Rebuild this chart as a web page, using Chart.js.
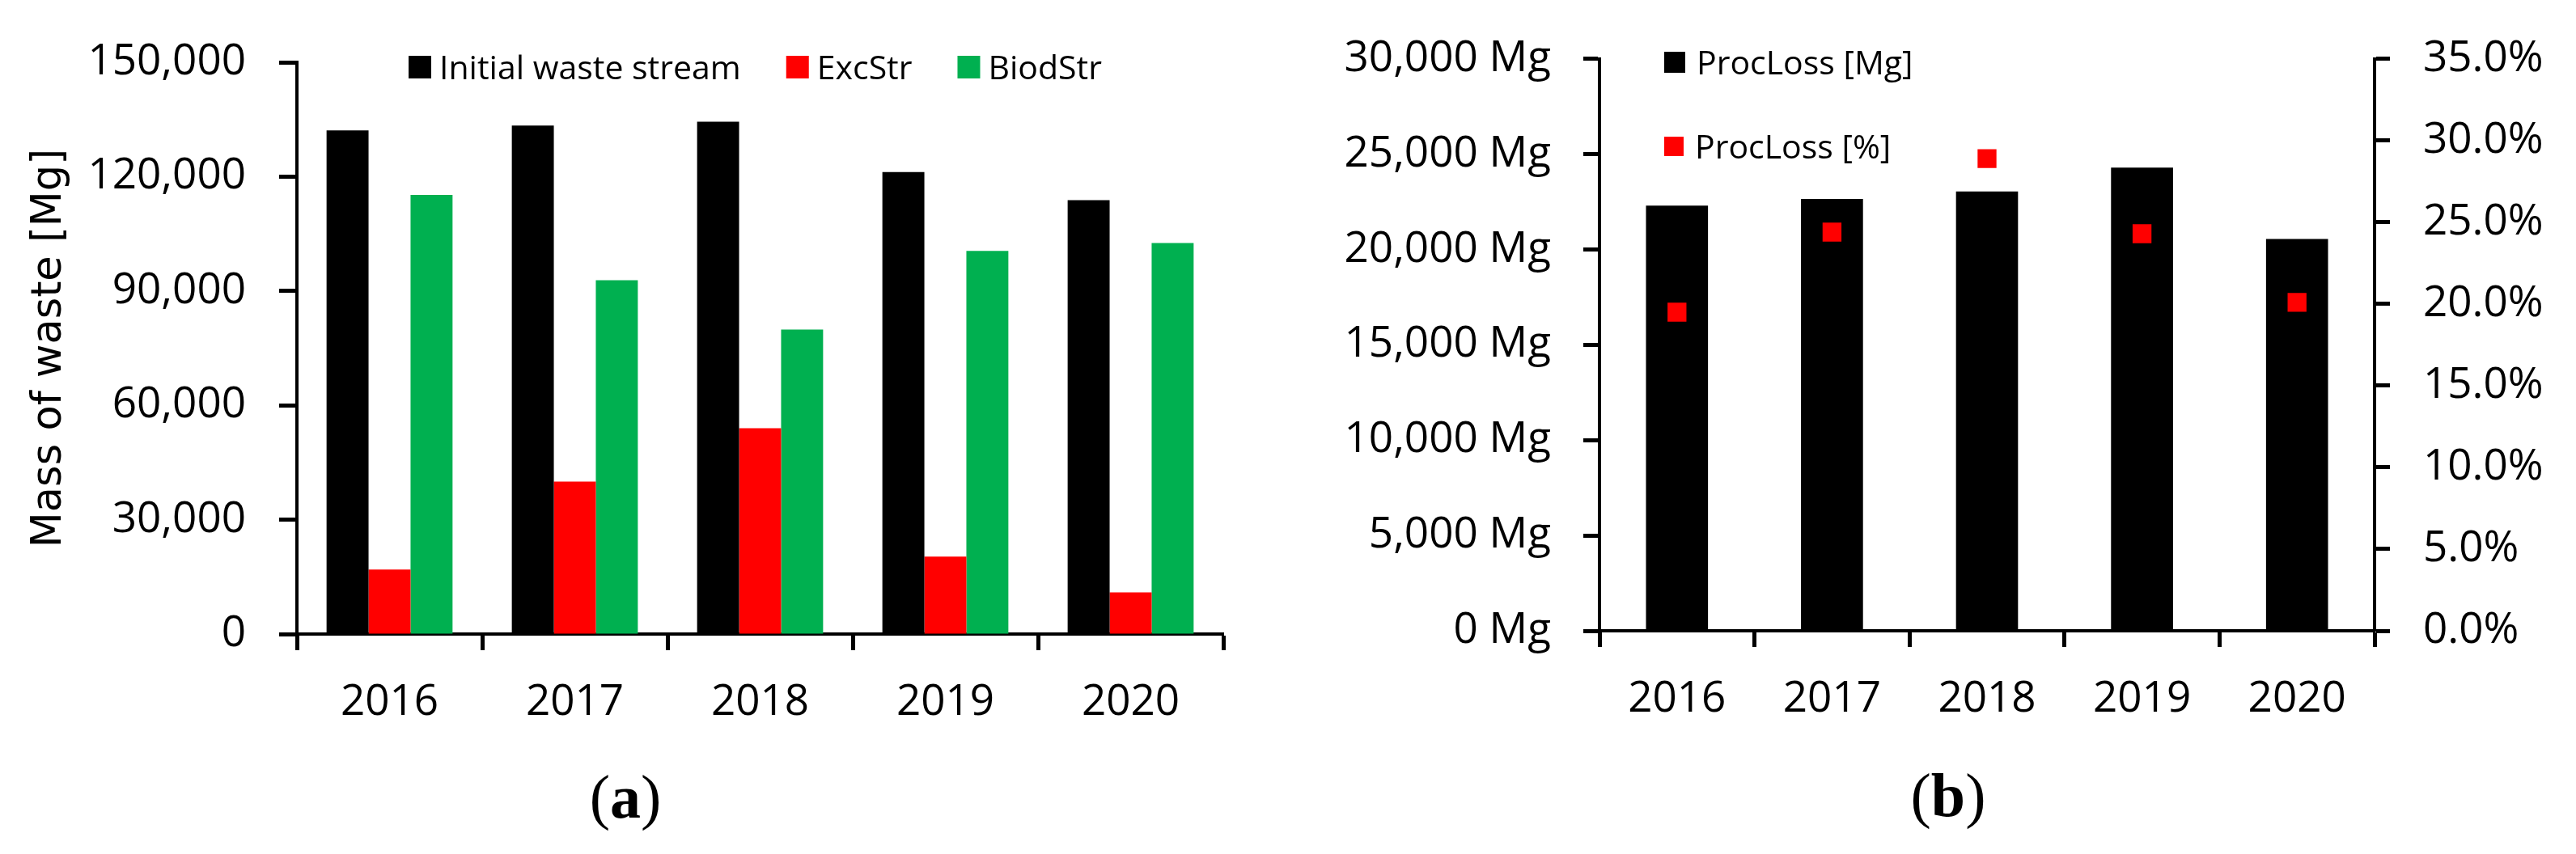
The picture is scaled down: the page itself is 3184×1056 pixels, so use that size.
<!DOCTYPE html>
<html><head><meta charset="utf-8">
<script src="https://cdn.jsdelivr.net/npm/chart.js@4.4.1/dist/chart.umd.min.js"></script>
<style>
html,body{margin:0;padding:0;background:#fff;}
body{width:3184px;height:1056px;position:relative;overflow:hidden;}
canvas{position:absolute;top:0;}
#ca{left:0;} #cb{left:1592px;}
.lab{position:absolute;font-family:"Liberation Serif","DejaVu Serif",serif;font-size:76px;color:#000;transform:translate(-50%,-50%);white-space:nowrap;line-height:1;}
.lab b{font-weight:bold;}
</style></head><body>
<canvas id="ca" width="1592" height="1056"></canvas>
<canvas id="cb" width="1592" height="1056"></canvas>
<div class="lab" style="left:773px;top:985px">(<b>a</b>)</div>
<div class="lab" style="left:2408px;top:983px">(<b>b</b>)</div>
<script>
// ---- data ----
const years = ['2016', '2017', '2018', '2019', '2020'];
const initialWaste = [132100, 133400, 134400, 121200, 113800];
const excStr = [16900, 40000, 54000, 20300, 10900];
const biodStr = [115200, 92800, 79900, 100500, 102600];
const procLossMg = [22300, 22650, 23050, 24300, 20550];
const procLossPct = [19.5, 24.4, 28.9, 24.3, 20.1];
const massTickStep = 30000;
const lossTickStep = 5000;
const pctTickStep = 5;

const TICK_FONT = {family: "'Open Sans', sans-serif", size: 53};
const LEG_FONT = "41px 'Open Sans', sans-serif";

const boxLegend = {
  id: 'boxLegend',
  afterDatasetsDraw(chart, args, o) {
    if (!o || !o.items) return;
    const ctx = chart.ctx;
    ctx.save();
    ctx.font = o.font;
    ctx.textBaseline = 'middle';
    ctx.textAlign = 'left';
    let x = o.x;
    o.items.forEach((it) => {
      const ds = chart.data.datasets[it.ds];
      const bx = o.dir === 'row' ? x : o.x;
      const cy = o.dir === 'row' ? o.y : it.y;
      ctx.fillStyle = ds.pointBackgroundColor || ds.backgroundColor;
      ctx.fillRect(bx, cy - it.size / 2, it.size, it.size);
      ctx.fillStyle = '#000';
      ctx.fillText(ds.label, bx + it.size + o.gap, cy + 3);
      x = bx + it.size + o.gap + ctx.measureText(ds.label).width + o.spacing;
    });
    ctx.restore();
  }
};

function axisStyle(tickLen) {
  return {
    grid: {display: true, drawOnChartArea: false, drawTicks: true, tickLength: tickLen, tickWidth: 5, tickColor: '#000'},
    border: {display: true, color: '#000', width: 4}
  };
}

// ---- chart (a) ----
new Chart(document.getElementById('ca'), {
  type: 'bar',
  data: {
    labels: years,
    datasets: [
      {label: 'Initial waste stream', data: initialWaste, backgroundColor: '#000000'},
      {label: 'ExcStr', data: excStr, backgroundColor: '#FF0000'},
      {label: 'BiodStr', data: biodStr, backgroundColor: '#00B050'}
    ]
  },
  options: {
    responsive: false, animation: false, devicePixelRatio: 1, events: [],
    layout: {padding: {top: 77, right: 80, left: 0, bottom: 0}},
    datasets: {bar: {categoryPercentage: 0.68, barPercentage: 1.0, borderWidth: 0}},
    plugins: {
      legend: {display: false}, tooltip: {enabled: false},
      boxLegend: {dir: 'row', x: 505, y: 83, gap: 10, spacing: 56, font: LEG_FONT,
        items: [{ds: 0, size: 28}, {ds: 1, size: 28}, {ds: 2, size: 28}]}
    },
    scales: {
      x: Object.assign(axisStyle(20), {
        ticks: {font: TICK_FONT, color: '#000', padding: 33, maxRotation: 0},
        afterFit(s) { s.height = 272; }
      }),
      y: Object.assign(axisStyle(22), {
        min: 0, max: 150000,
        ticks: {stepSize: massTickStep, font: TICK_FONT, color: '#000', padding: 41,
          callback: v => v.toLocaleString('en-US')},
        title: {display: true, text: 'Mass of waste [Mg]', color: '#000',
          font: {family: "'DejaVu Sans', sans-serif", size: 51}, padding: {top: 31, bottom: 0}},
        afterFit(s) { s.width = 367; }
      })
    }
  },
  plugins: [boxLegend]
});

// ---- chart (b) ----
new Chart(document.getElementById('cb'), {
  type: 'bar',
  data: {
    labels: years,
    datasets: [
      {label: 'ProcLoss [Mg]', data: procLossMg, backgroundColor: '#000000', yAxisID: 'y', order: 2,
        categoryPercentage: 0.8, barPercentage: 0.5, borderWidth: 0},
      {type: 'line', label: 'ProcLoss [%]', data: procLossPct, yAxisID: 'y1', order: 1,
        showLine: false, pointStyle: 'rect', pointRadius: 16.5, pointBorderWidth: 0,
        pointBackgroundColor: '#FF0000', pointBorderColor: '#FF0000', backgroundColor: '#FF0000', borderColor: '#FF0000'}
    ]
  },
  options: {
    responsive: false, animation: false, devicePixelRatio: 1, events: [],
    layout: {padding: {top: 57, right: 0, left: 0, bottom: 0}},
    plugins: {
      legend: {display: false}, tooltip: {enabled: false},
      boxLegend: {dir: 'col', x: 465, gap: 14, spacing: 0, font: LEG_FONT,
        items: [{ds: 0, size: 26, y: 77}, {ds: 1, size: 24, y: 181}]}
    },
    scales: {
      x: Object.assign(axisStyle(20), {
        ticks: {font: TICK_FONT, color: '#000', padding: 33, maxRotation: 0},
        afterFit(s) { s.height = 276; }
      }),
      y: Object.assign(axisStyle(20), {
        position: 'left', min: 0, max: 30000,
        ticks: {stepSize: lossTickStep, font: TICK_FONT, color: '#000', padding: 40,
          callback: v => v.toLocaleString('en-US') + ' Mg'},
        afterFit(s) { s.width = 385; }
      }),
      y1: Object.assign(axisStyle(19), {
        position: 'right', min: 0, max: 35,
        ticks: {stepSize: pctTickStep, font: TICK_FONT, color: '#000', padding: 41,
          callback: v => v.toFixed(1) + '%'},
        afterFit(s) { s.width = 249; }
      })
    }
  },
  plugins: [boxLegend]
});
</script>
</body></html>
